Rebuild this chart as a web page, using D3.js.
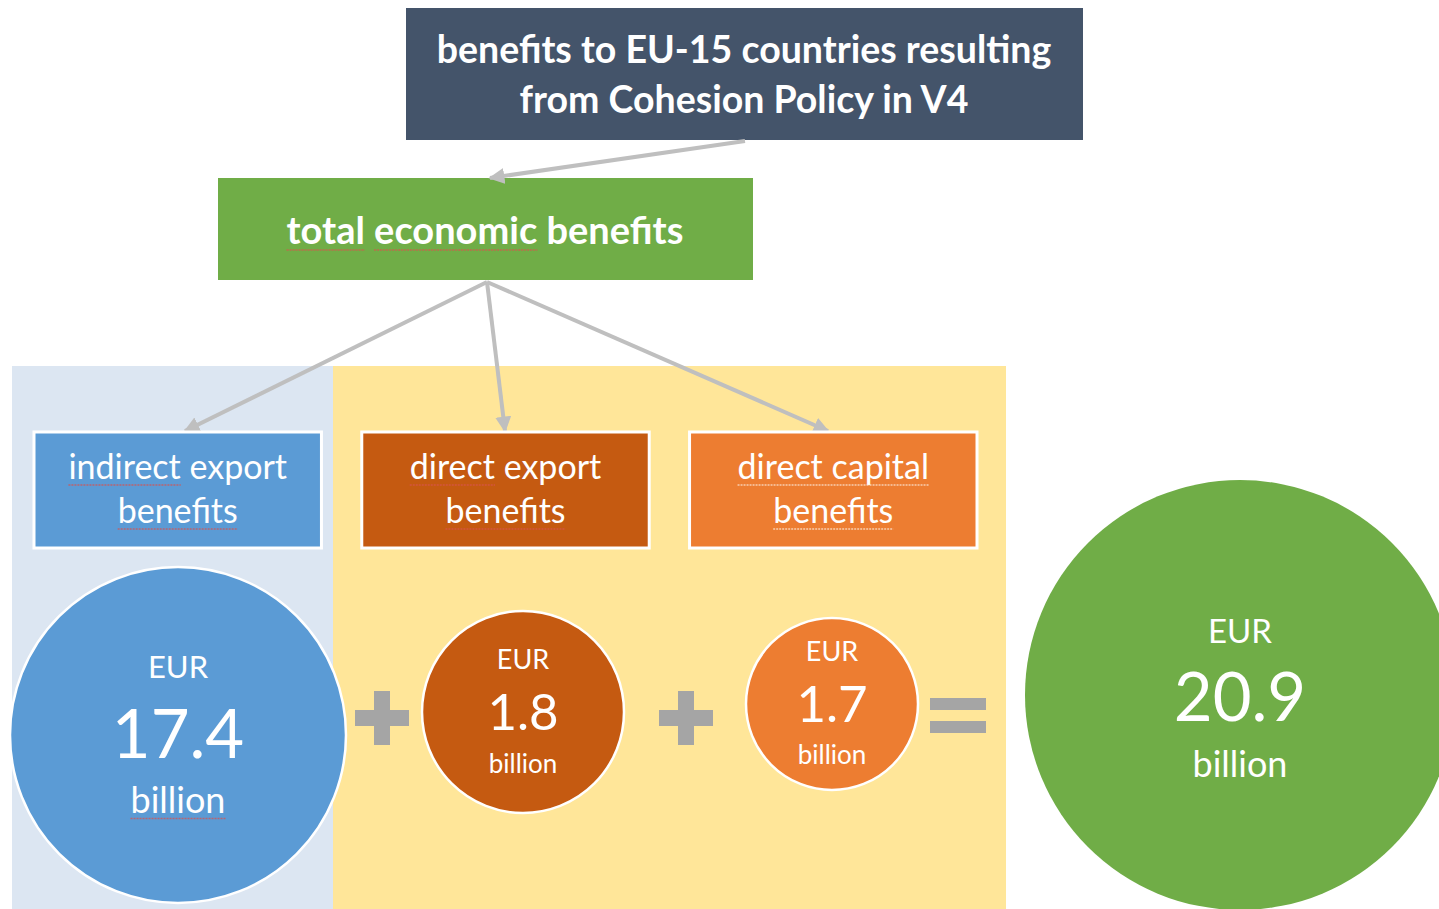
<!DOCTYPE html>
<html>
<head>
<meta charset="utf-8">
<script src="https://cdn.jsdelivr.net/npm/d3@7"></script>
<style>
  body { margin: 0; background: #fff; }
  svg { display: block; font-family: Lato, "Open Sans", sans-serif; }
</style>
</head>
<body>
<svg width="1439" height="909"></svg>
<script>
var svg = d3.select("svg");

// chart content
var titleLines = ["benefits to EU-15 countries resulting", "from Cohesion Policy in V4"];
var totalLabel = "total economic benefits";
var components = ["indirect export benefits", "direct export benefits", "direct capital benefits"];
var componentLines = [["indirect export", "benefits"], ["direct export", "benefits"], ["direct capital", "benefits"]];
var values = [17.4, 1.8, 1.7];
var totalValue = 20.9;
var unitTop = "EUR";
var unitBottom = "billion";

// layout
var colors = ["#5b9bd5", "#c55a11", "#ed7d31"];
var totalColor = "#70ad47";
var arrowColor = "#bfbfbf";
var opColor = "#a5a5a5";
var squiggle = "#d9534f";

var boxX = d3.scaleBand().domain(components).range([34, 977]).paddingInner(0.123);
var circleCx = [178, 523, 832];
var circleCy = [735, 712, 704];
var circleR = [168, 101, 86];
var fontScale = [
  { eur: 31, num: 67, bil: 36, dy: [-68, 0, 65] },
  { eur: 27, num: 51, bil: 26, dy: [-52, 0, 52] },
  { eur: 27, num: 51, bil: 26, dy: [-52, 0, 51] }
];

// spell-check style underline below a word of a text element
function underline(textNode, word, color) {
  var s = textNode.textContent;
  var idx = s.indexOf(word);
  if (idx < 0) return;
  var x0 = textNode.getStartPositionOfChar(idx).x;
  var w = textNode.getSubStringLength(idx, word.length);
  var y = +textNode.getAttribute("y") + 6;
  var parent = d3.select(textNode.parentNode);
  parent.append("line")
    .attr("x1", x0).attr("x2", x0 + w)
    .attr("y1", y).attr("y2", y)
    .attr("stroke", color)
    .attr("stroke-width", 1.5)
    .attr("stroke-dasharray", "2,1")
    .attr("opacity", 0.75);
}

var defs = svg.append("defs");
defs.append("marker")
  .attr("id", "arrow")
  .attr("viewBox", "0 0 10 10")
  .attr("refX", 9)
  .attr("refY", 5)
  .attr("markerWidth", 4)
  .attr("markerHeight", 4)
  .attr("orient", "auto")
  .append("path")
  .attr("d", "M0,0 L10,5 L0,10 z")
  .attr("fill", arrowColor);

// background panels
svg.append("rect").attr("x", 12).attr("y", 366).attr("width", 321).attr("height", 543).attr("fill", "#dce6f2");
svg.append("rect").attr("x", 333).attr("y", 366).attr("width", 673).attr("height", 543).attr("fill", "#ffe699");

// title box
svg.append("rect").attr("x", 406).attr("y", 8).attr("width", 677).attr("height", 132).attr("fill", "#44546a");
svg.append("g").selectAll("text")
  .data(titleLines)
  .enter()
  .append("text")
  .attr("x", 744)
  .attr("y", function (d, i) { return 63 + i * 50; })
  .attr("text-anchor", "middle")
  .attr("fill", "#fff")
  .attr("font-weight", "bold")
  .attr("font-size", 37.5)
  .text(function (d) { return d; });

// total box
svg.append("rect").attr("x", 218).attr("y", 178).attr("width", 535).attr("height", 102).attr("fill", totalColor);
var totalG = svg.append("g");
var totalText = totalG.append("text")
  .attr("x", 485).attr("y", 244)
  .attr("text-anchor", "middle")
  .attr("fill", "#fff")
  .attr("font-weight", "bold")
  .attr("font-size", 38)
  .text(totalLabel);
underline(totalText.node(), "total", squiggle);
underline(totalText.node(), "economic", squiggle);

// arrows
var arrows = [
  { x1: 745, y1: 141, x2: 490, y2: 178 },
  { x1: 487, y1: 282, x2: 185, y2: 431 },
  { x1: 487, y1: 282, x2: 505, y2: 431 },
  { x1: 487, y1: 282, x2: 828, y2: 431 }
];
svg.append("g").selectAll("line")
  .data(arrows)
  .enter()
  .append("line")
  .attr("x1", function (d) { return d.x1; })
  .attr("y1", function (d) { return d.y1; })
  .attr("x2", function (d) { return d.x2; })
  .attr("y2", function (d) { return d.y2; })
  .attr("stroke", arrowColor)
  .attr("stroke-width", 4)
  .attr("marker-end", "url(#arrow)");

// component boxes
var boxes = svg.append("g").selectAll("g")
  .data(components)
  .enter()
  .append("g");

boxes.append("rect")
  .attr("x", function (d) { return boxX(d); })
  .attr("y", 432)
  .attr("width", boxX.bandwidth())
  .attr("height", 116)
  .attr("fill", function (d, i) { return colors[i]; })
  .attr("stroke", "#fff")
  .attr("stroke-width", 3);

var underlined = [["indirect", "benefits"], ["direct", "benefits"], ["direct capital", "benefits"]];
boxes.each(function (d, i) {
  var g = d3.select(this);
  g.selectAll("text")
    .data(componentLines[i])
    .enter()
    .append("text")
    .attr("x", boxX(d) + boxX.bandwidth() / 2)
    .attr("y", function (t, j) { return 479 + j * 44; })
    .attr("text-anchor", "middle")
    .attr("fill", "#fff")
    .attr("font-size", 34)
    .text(function (t) { return t; })
    .each(function (t) {
      var node = this;
      underlined[i].forEach(function (w) {
        if (t.indexOf(w) >= 0) underline(node, w, i === 2 ? "#fde9d9" : squiggle);
      });
    });
});

// value circles
var circles = svg.append("g").selectAll("g")
  .data(values)
  .enter()
  .append("g")
  .attr("transform", function (d, i) { return "translate(" + circleCx[i] + "," + circleCy[i] + ")"; });

circles.append("circle")
  .attr("r", function (d, i) { return circleR[i]; })
  .attr("fill", function (d, i) { return colors[i]; })
  .attr("stroke", "#fff")
  .attr("stroke-width", 2.5);

circles.each(function (d, i) {
  var f = fontScale[i];
  var g = d3.select(this);
  var rows = [
    { t: unitTop, s: f.eur, dy: f.dy[0] },
    { t: d3.format(".1f")(d), s: f.num, dy: f.dy[1] },
    { t: unitBottom, s: f.bil, dy: f.dy[2] }
  ];
  g.selectAll("text")
    .data(rows)
    .enter()
    .append("text")
    .attr("y", function (r) { return r.dy + r.s * 0.35; })
    .attr("text-anchor", "middle")
    .attr("fill", "#fff")
    .attr("font-size", function (r) { return r.s; })
    .text(function (r) { return r.t; });
  if (i === 0) underline(g.selectAll("text").nodes()[2], unitBottom, squiggle);
});

// total circle
var tot = svg.append("g").attr("transform", "translate(1240,695)");
tot.append("circle").attr("r", 215).attr("fill", totalColor);
tot.selectAll("text")
  .data([
    { t: unitTop, s: 33, dy: -64 },
    { t: d3.format(".1f")(totalValue), s: 67, dy: 3 },
    { t: unitBottom, s: 36, dy: 69 }
  ])
  .enter()
  .append("text")
  .attr("y", function (r) { return r.dy + r.s * 0.35; })
  .attr("text-anchor", "middle")
  .attr("fill", "#fff")
  .attr("font-size", function (r) { return r.s; })
  .text(function (r) { return r.t; });

// operators
function plus(cx, cy) {
  var g = svg.append("g").attr("fill", opColor);
  g.append("rect").attr("x", cx - 27).attr("y", cy - 8).attr("width", 54).attr("height", 16);
  g.append("rect").attr("x", cx - 8).attr("y", cy - 27).attr("width", 16).attr("height", 54);
}
plus(382, 718);
plus(686, 718);
var eq = svg.append("g").attr("fill", opColor);
eq.append("rect").attr("x", 930).attr("y", 698).attr("width", 56).attr("height", 12);
eq.append("rect").attr("x", 930).attr("y", 721).attr("width", 56).attr("height", 12);
</script>
</body>
</html>
